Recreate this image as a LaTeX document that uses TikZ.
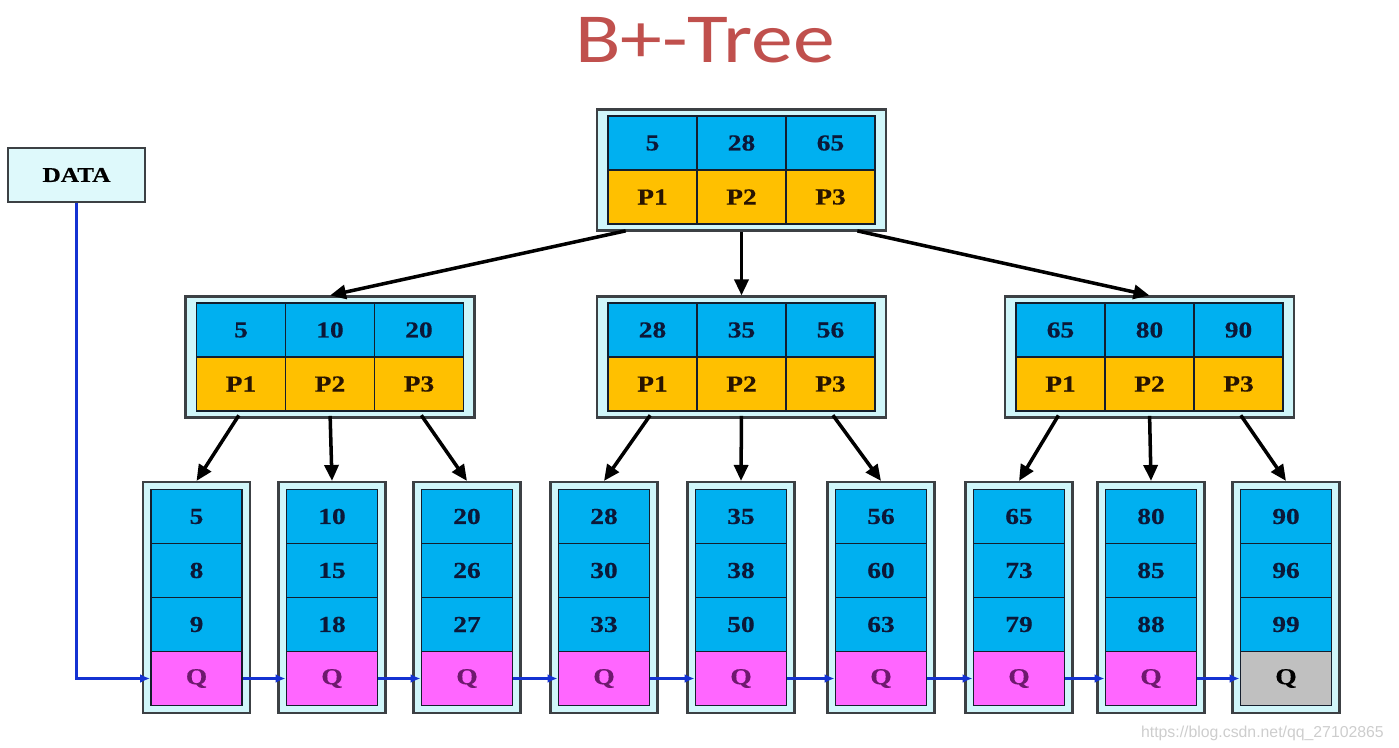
\documentclass[tikz,border=0pt]{standalone}
\usepackage{fontspec}
\usetikzlibrary{arrows.meta}
\setmainfont{Liberation Serif}
\newfontfamily\titlefont[FakeStretch=1.19]{Carlito}
\newfontfamily\cellfont[FakeStretch=1.2, BoldFeatures={FakeBold=0.5}]{Liberation Serif}
\newfontfamily\markfont{Liberation Sans}
\definecolor{titlered}{RGB}{192, 80, 77}
\definecolor{keyblue}{RGB}{0, 176, 240}
\definecolor{ptrorange}{RGB}{255, 192, 0}
\definecolor{qpink}{RGB}{255, 102, 255}
\definecolor{qgrey}{RGB}{192, 192, 192}
\definecolor{framecyan}{RGB}{208, 246, 250}
\definecolor{framegrey}{RGB}{60, 64, 68}
\definecolor{celledge}{RGB}{20, 30, 45}
\definecolor{keytext}{RGB}{12, 24, 56}
\definecolor{ptrtext}{RGB}{40, 20, 0}
\definecolor{qtext}{RGB}{110, 25, 110}
\definecolor{chainblue}{RGB}{20, 50, 210}
\definecolor{markgrey}{RGB}{205, 205, 205}
\tikzstyle{nodeframe} = [
  draw=framegrey,
  line width=1.2pt,
  fill=framecyan,
  inner sep=0pt,
]
\tikzstyle{cell} = [
  draw=celledge,
  line width=1.1pt,
  inner sep=0pt,
  minimum width=1.78cm,
  minimum height=1.08cm,
  font=\cellfont\bfseries\fontsize{13}{13}\selectfont,
]
\tikzstyle{keycell} = [cell, fill=keyblue, text=keytext]
\tikzstyle{ptrcell} = [cell, fill=ptrorange, text=ptrtext]
\tikzstyle{leafcell} = [cell, minimum width=1.82cm]
\tikzstyle{treearrow} = [
  line width=2pt,
  -{Triangle[length=0.32cm,width=0.28cm]},
]
\tikzstyle{chainarrow} = [
  draw=chainblue,
  line width=1.6pt,
  -{Latex[length=0.2cm,width=0.18cm]},
]

\begin{document}
\begin{tikzpicture}
            \useasboundingbox (0,0) rectangle (27.98,-14.96);

            % Title
            \node[anchor=base, text=titlered,
              font=\titlefont\fontsize{40}{40}\selectfont] (title) at (14.1,-1.26) {B+-Tree};

            % Data entry
            \node[nodeframe, fill=framecyan!70!white, minimum width=2.74cm, minimum height=1.08cm,
              font=\cellfont\bfseries\fontsize{12}{12}\selectfont] (data) at (1.53,-3.5) {DATA};

            % Root and second level
            \foreach \name/\x/\y/\ka/\kb/\kc in {root/14.83/-3.40/5/28/65,
                lmid/6.60/-7.14/5/10/20, mmid/14.83/-7.14/28/35/56, rmid/22.99/-7.14/65/80/90} {
              \node[nodeframe, minimum width=5.78cm, minimum height=2.42cm] (\name) at (\x,\y) {};
              \node[keycell] (\name-k1) at (\x-1.78,\y+0.54) {\ka};
              \node[keycell] (\name-k2) at (\x,\y+0.54) {\kb};
              \node[keycell] (\name-k3) at (\x+1.78,\y+0.54) {\kc};
              \node[ptrcell] (\name-p1) at (\x-1.78,\y-0.54) {P1};
              \node[ptrcell] (\name-p2) at (\x,\y-0.54) {P2};
              \node[ptrcell] (\name-p3) at (\x+1.78,\y-0.54) {P3};
            }

            % Leaves
            \foreach \i/\x/\ka/\kb/\kc/\qfill/\qink in {1/3.93/5/8/9/qpink/qtext,
                2/6.64/10/15/18/qpink/qtext, 3/9.34/20/26/27/qpink/qtext,
                4/12.08/28/30/33/qpink/qtext, 5/14.82/35/38/50/qpink/qtext,
                6/17.62/56/60/63/qpink/qtext, 7/20.38/65/73/79/qpink/qtext,
                8/23.02/80/85/88/qpink/qtext, 9/25.72/90/96/99/qgrey/black} {
              \node[nodeframe, minimum width=2.14cm, minimum height=4.62cm] (leaf\i) at (\x,-11.95) {};
              \node[leafcell, fill=keyblue, text=keytext] (leaf\i-1) at (\x,-10.33) {\ka};
              \node[leafcell, fill=keyblue, text=keytext] (leaf\i-2) at (\x,-11.41) {\kb};
              \node[leafcell, fill=keyblue, text=keytext] (leaf\i-3) at (\x,-12.49) {\kc};
              \node[leafcell, fill=\qfill, text=\qink] (q\i) at (\x,-13.57) {Q};
            }

            % Root pointers
            \draw[treearrow, shorten <=0.55cm] (root-p1.south) -- (lmid.north);
            \draw[treearrow, shorten <=0.15cm] (root-p2.south) -- (mmid.north);
            \draw[treearrow, shorten <=0.55cm] (root-p3.south) -- (rmid.north);

            % Pointers down to the leaves
            \foreach \m/\a/\b/\c in {lmid/1/2/3, mmid/4/5/6, rmid/7/8/9} {
              \draw[treearrow, shorten <=0.08cm] (\m-p1.south) -- (leaf\a.north);
              \draw[treearrow, shorten <=0.08cm] (\m-p2.south) -- (leaf\b.north);
              \draw[treearrow, shorten <=0.08cm] (\m-p3.south) -- (leaf\c.north);
            }

            % Leaf chain
            \draw[chainarrow] (data.south) |- (q1.west);
            \foreach \i/\j in {1/2, 2/3, 3/4, 4/5, 5/6, 6/7, 7/8, 8/9} {
              \draw[chainarrow] (q\i.east) -- (q\j.west);
            }

            % Watermark
            \node[anchor=base east, text=markgrey,
              font=\markfont\fontsize{9}{9}\selectfont] (mark) at (27.8,-14.74) {https://blog.csdn.net/qq\_27102865};
          \end{tikzpicture}
\end{document}
